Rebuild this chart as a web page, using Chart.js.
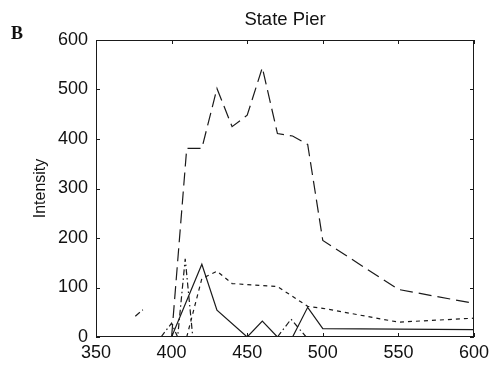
<!DOCTYPE html>
<html>
<head>
<meta charset="utf-8">
<script src="https://cdn.jsdelivr.net/npm/chart.js@4.4.1/dist/chart.umd.min.js"></script>
<style>
html,body{margin:0;padding:0;background:#fff}
#wrap{width:493px;height:365px}
</style>
</head>
<body>
<div id="wrap"><canvas id="c"></canvas></div>
<script>
// wavelength (nm) / intensity pairs
const wlLong=[400,410,420,430,440,450,460,470,480,490,500,550,600];
const intLong=[0,381,381,502,425,448,544,411,406,389,195,96,68];
const wlSolid=[400,420,430,450,460,470,480,490,500,600];
const intSolid=[0,147,54,0,32,0,0,60,17,15];
const wlShort=[410,420,430,440,460,470,490,500,550,600];
const intShort=[0,118,133,108,104,102,62,58,30,38];
const wlDot=[376,381,386,393,400,404,409,414,440,470,479,489];
const intDot=[42,55,null,0,28,0,158,0,null,0,36,0];
const xTicks=[350,400,450,500,550,600];
const yTicks=[0,100,200,300,400,500,600];

const ink='#1a1a1a';
const pts=(xs,ys)=>xs.map((v,i)=>({x:v,y:ys[i]}));
const ds=(xs,ys,dash)=>({data:pts(xs,ys),borderColor:ink,borderWidth:1.2,borderDash:dash,pointRadius:0,tension:0,spanGaps:false,fill:false});

const decor={
 id:'decor',
 afterDraw(chart){
  const {ctx,chartArea:a,scales:{x,y}}=chart;
  ctx.save();
  ctx.strokeStyle=ink;ctx.lineWidth=1;
  ctx.strokeRect(a.left+.5,a.top+.5,a.right-a.left-1,a.bottom-a.top-1);
  ctx.beginPath();
  xTicks.forEach(v=>{const p=Math.round(x.getPixelForValue(v))+.5;ctx.moveTo(p,a.bottom);ctx.lineTo(p,a.bottom-4);ctx.moveTo(p,a.top);ctx.lineTo(p,a.top+4);});
  yTicks.forEach(v=>{const p=Math.round(y.getPixelForValue(v))+.5;ctx.moveTo(a.left,p);ctx.lineTo(a.left+4,p);ctx.moveTo(a.right,p);ctx.lineTo(a.right-4,p);});
  ctx.stroke();
  ctx.fillStyle='#111';
  ctx.textAlign='center';ctx.textBaseline='alphabetic';
  ctx.font='18.5px "Liberation Sans", Arial, sans-serif';
  ctx.fillText('State Pier',(a.left+a.right)/2,25);
  ctx.font='bold 18px "Liberation Serif", "Times New Roman", serif';
  ctx.fillText('B',17,39);
  ctx.restore();
 }
};

new Chart(document.getElementById('c'),{
 type:'line',
 data:{datasets:[
  ds(wlLong,intLong,[13,6]),
  ds(wlSolid,intSolid,[]),
  ds(wlShort,intShort,[4,4]),
  ds(wlDot,intDot,[6,3,1.5,3])
 ]},
 options:{
  responsive:true,maintainAspectRatio:false,animation:false,
  layout:{padding:{left:0,top:40,right:19,bottom:0}},
  plugins:{legend:{display:false},tooltip:{enabled:false},title:{display:false}},
  scales:{
   x:{type:'linear',min:350,max:600,
    afterBuildTicks:s=>{s.ticks=xTicks.map(v=>({value:v}));},
    afterFit:s=>{s.height=28;},
    grid:{display:false},border:{display:false},
    ticks:{color:'#111',padding:-3,maxRotation:0,font:{family:'"Liberation Sans", Arial',size:18}}},
   y:{min:0,max:600,
    afterBuildTicks:s=>{s.ticks=yTicks.map(v=>({value:v}));},
    afterFit:s=>{s.width=96;},
    grid:{display:false},border:{display:false},
    title:{display:true,text:'Intensity',color:'#111',padding:{top:31,bottom:0},font:{family:'"Liberation Sans", Arial',size:16}},
    ticks:{color:'#111',padding:0,font:{family:'"Liberation Sans", Arial',size:18}}}
  }
 },
 plugins:[decor]
});
</script>
</body>
</html>
